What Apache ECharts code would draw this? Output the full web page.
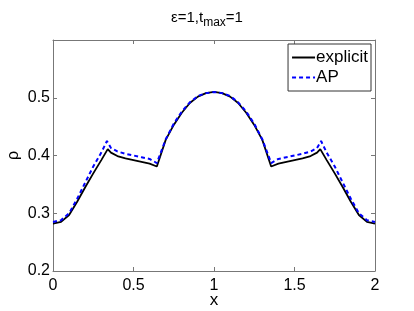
<!DOCTYPE html>
<html><head><meta charset="utf-8">
<script src="https://cdn.jsdelivr.net/npm/echarts@6/dist/echarts.min.js"></script>
<style>html,body{margin:0;padding:0;background:#fff}#c{width:414px;height:311px}</style>
</head><body><div id="c"></div>
<script>
const xExplicit = [0,0.05,0.1,0.15,0.2,0.25,0.3,0.34,0.36,0.4,0.45,0.5,0.55,0.6,0.645,0.7,0.75,0.8,0.85,0.9,0.95,1.0,
  1.05,1.1,1.15,1.2,1.25,1.3,1.355,1.4,1.45,1.5,1.55,1.6,1.64,1.66,1.7,1.75,1.8,1.85,1.9,1.95,2.0];
const yExplicit = [0.282,0.285,0.297,0.320,0.345,0.369,0.392,0.411,0.405,0.399,0.395,0.392,0.389,0.386,0.381,0.427,0.453,0.474,0.491,0.502,0.508,0.510,
  0.508,0.502,0.491,0.474,0.453,0.427,0.381,0.386,0.389,0.392,0.395,0.399,0.405,0.411,0.392,0.369,0.345,0.320,0.297,0.285,0.282];
const xAP = [0,0.05,0.1,0.15,0.2,0.25,0.3,0.335,0.36,0.4,0.45,0.5,0.55,0.6,0.645,0.7,0.75,0.8,0.85,0.9,0.95,1.0,
  1.05,1.1,1.15,1.2,1.25,1.3,1.355,1.4,1.45,1.5,1.55,1.6,1.64,1.665,1.7,1.75,1.8,1.85,1.9,1.95,2.0];
const yAP = [0.285,0.288,0.300,0.325,0.353,0.381,0.405,0.425,0.413,0.407,0.403,0.400,0.397,0.394,0.387,0.428,0.455,0.476,0.492,0.503,0.508,0.510,
  0.508,0.503,0.492,0.476,0.455,0.428,0.387,0.394,0.397,0.400,0.403,0.407,0.413,0.425,0.405,0.381,0.353,0.325,0.300,0.288,0.285];
const xTicks = [0, 0.5, 1, 1.5, 2];
const yTicks = [0.2, 0.3, 0.4, 0.5, 0.6];
const seriesNames = ['explicit', 'AP'];

const font = '"Liberation Sans", Arial, sans-serif';
const chart = echarts.init(document.getElementById('c'), null, {renderer: 'canvas'});
const axisLineStyle = {color: '#777', width: 1};
const tickStyle = {show: true, inside: true, length: 4, lineStyle: {color: '#777'}};
chart.setOption({
  animation: false,
  backgroundColor: '#fff',
  textStyle: {fontFamily: font},
  title: {
    text: '{a|ε=1,t}{s|max}{a|=1}',
    left: 'center', top: 2,
    textStyle: {rich: {
      a: {fontFamily: font, fontSize: 15, color: '#000', fontWeight: 'normal'},
      s: {fontFamily: font, fontSize: 12, color: '#000', fontWeight: 'normal', verticalAlign: 'bottom', padding: [10,0,0,0]}
    }}
  },
  grid: {left: 53, right: 39, top: 40, bottom: 40, containLabel: false, outerBoundsMode: 'none'},
  legend: {
    right: 43, top: 44, orient: 'vertical',
    backgroundColor: '#fff', borderColor: '#333', borderWidth: 1, borderRadius: 0,
    padding: [5, 3, 5, 3], itemGap: 3, itemWidth: 23, itemHeight: 16,
    itemStyle: {opacity: 0},
    textStyle: {fontFamily: font, fontSize: 17, color: '#000', padding: [0,0,0,-4]},
    data: seriesNames
  },
  xAxis: [{
    type: 'value', min: 0, max: 2, interval: 0.5, position: 'bottom',
    name: 'x', nameLocation: 'middle', nameGap: 21, nameMoveOverlap: false,
    nameTextStyle: {fontFamily: font, fontSize: 17, color: '#000'},
    axisLine: {show: true, onZero: false, lineStyle: axisLineStyle},
    axisTick: tickStyle, splitLine: {show: false},
    axisLabel: {fontFamily: font, fontSize: 16, color: '#000', margin: 7,
      formatter: v => xTicks.includes(v) ? String(v) : ''}
  }, {
    type: 'value', min: 0, max: 2, interval: 0.5, position: 'top',
    axisLine: {show: true, onZero: false, lineStyle: axisLineStyle},
    axisTick: tickStyle, axisLabel: {show: false}, splitLine: {show: false}
  }],
  yAxis: [{
    type: 'value', min: 0.2, max: 0.6, interval: 0.1, position: 'left',
    name: 'ρ', nameLocation: 'middle', nameGap: 31, nameRotate: 90, nameMoveOverlap: false,
    nameTextStyle: {fontFamily: font, fontSize: 16, color: '#000'},
    axisLine: {show: true, onZero: false, lineStyle: axisLineStyle},
    axisTick: tickStyle, splitLine: {show: false},
    axisLabel: {fontFamily: font, fontSize: 16, color: '#000', margin: 3, showMaxLabel: false,
      formatter: v => { const r = Math.round(v*10)/10; return (yTicks.includes(r) && r < 0.6) ? r.toFixed(1) : ''; }}
  }, {
    type: 'value', min: 0.2, max: 0.6, interval: 0.1, position: 'right',
    axisLine: {show: true, onZero: false, lineStyle: axisLineStyle},
    axisTick: tickStyle, axisLabel: {show: false}, splitLine: {show: false}
  }],
  series: [{
    name: seriesNames[0], type: 'line', symbol: 'none', smooth: false,
    data: xExplicit.map((x, i) => [x, yExplicit[i]]),
    lineStyle: {color: '#000', width: 1.8}, itemStyle: {color: '#000'}, z: 2
  }, {
    name: seriesNames[1], type: 'line', symbol: 'none', smooth: false,
    data: xAP.map((x, i) => [x, yAP[i]]),
    lineStyle: {color: '#0000ff', width: 2, type: [4, 3]}, itemStyle: {color: '#0000ff'}, z: 3
  }]
});
</script></body></html>
